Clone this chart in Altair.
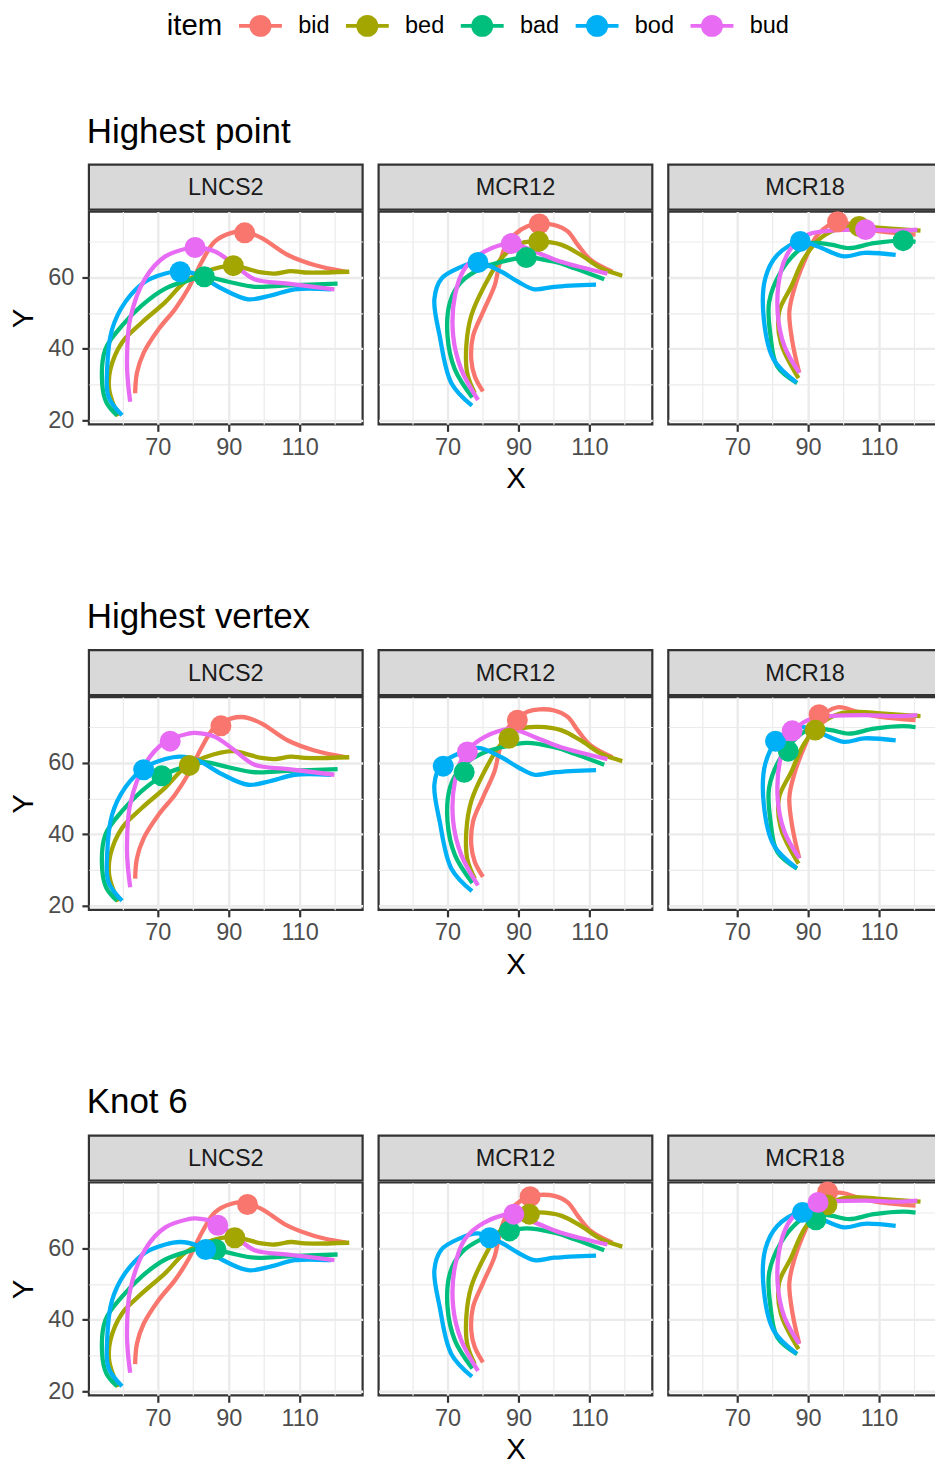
import altair as alt
import pandas as pd

FONT = "Liberation Sans"

ITEMS = ["bid", "bed", "bad", "bod", "bud"]
COLORS = ["#F8766D", "#A3A500", "#00BF7D", "#00B0F6", "#E76BF3"]
SPEAKERS = ["LNCS2", "MCR12", "MCR18"]
METHODS = ["Highest point", "Highest vertex", "Knot 6"]

X_TICKS = [60, 70, 80, 90, 100, 110, 120]
Y_TICKS = [20, 30, 40, 50, 60, 70]

# ---- trajectories (same in every row) ----
LNCS2_bid_x = [63.6, 64.1, 66.0, 70.2, 74.9, 78.6, 82.4, 86.1, 90.8, 94.5, 99.2, 106.7, 114.2, 123.1]
LNCS2_bid_y = [27.6, 33.3, 38.9, 45.5, 51.2, 56.9, 64.4, 70.1, 72.5, 72.8, 71.1, 66.3, 63.5, 61.6]
LNCS2_bed_x = [58.8, 56.3, 56.6, 59.9, 65.5, 72.1, 77.7, 83.3, 91.3, 94.6, 99.2, 103.0, 107.6, 111.4, 124.0]
LNCS2_bed_y = [21.2, 28.5, 34.2, 41.8, 47.4, 53.1, 58.8, 61.6, 63.3, 62.6, 61.4, 61.1, 61.8, 61.4, 61.6]
LNCS2_bad_x = [58.5, 55.5, 54.3, 55.2, 59.9, 65.5, 72.1, 78.6, 83.1, 89.9, 97.3, 106.7, 120.7]
LNCS2_bad_y = [21.4, 25.0, 30.4, 39.9, 46.5, 52.2, 56.9, 59.2, 60.2, 58.8, 57.4, 57.8, 58.3]
LNCS2_bod_x = [59.9, 56.1, 55.7, 57.1, 60.8, 66.4, 72.1, 76.3, 81.4, 88.0, 95.5, 102.0, 108.6, 118.9]
LNCS2_bod_y = [21.4, 26.6, 34.2, 45.5, 53.1, 58.8, 61.1, 61.8, 60.7, 56.9, 53.9, 55.0, 56.7, 56.7]
LNCS2_bud_x = [62.2, 61.6, 61.3, 62.2, 66.4, 72.1, 78.6, 80.5, 86.1, 91.7, 97.3, 106.7, 119.8]
LNCS2_bud_y = [25.2, 30.4, 36.1, 48.4, 59.7, 65.9, 68.2, 68.4, 67.3, 63.5, 59.5, 58.3, 56.7]

MCR12_bid_x = [80.0, 77.7, 76.7, 77.2, 80.0, 83.3, 84.4, 86.1, 88.9, 92.7, 95.9, 100.1, 103.9, 106.7, 110.4, 116.5]
MCR12_bid_y = [28.1, 32.3, 37.0, 43.6, 50.3, 57.8, 62.6, 68.2, 72.0, 74.4, 75.0, 74.7, 72.9, 69.2, 64.9, 61.6]
MCR12_bed_x = [77.7, 75.6, 75.3, 76.7, 80.5, 85.2, 90.8, 95.7, 102.0, 107.6, 113.3, 119.3]
MCR12_bed_y = [27.6, 33.0, 40.8, 49.3, 57.8, 65.4, 69.6, 70.1, 69.2, 66.3, 62.6, 60.5]
MCR12_bad_x = [77.0, 72.1, 70.0, 70.7, 73.9, 79.6, 85.2, 92.2, 100.1, 105.8, 114.2]
MCR12_bad_y = [26.4, 34.2, 43.6, 53.1, 58.8, 62.6, 64.4, 65.6, 64.4, 62.6, 59.5]
MCR12_bod_x = [76.9, 71.1, 67.8, 66.3, 68.3, 73.0, 78.6, 85.2, 89.9, 94.5, 100.1, 111.9]
MCR12_bod_y = [24.1, 30.4, 43.6, 54.0, 59.7, 62.6, 64.2, 61.6, 58.8, 56.7, 57.4, 58.0]
MCR12_bud_x = [78.6, 73.9, 71.6, 72.1, 74.9, 80.5, 88.0, 94.5, 102.0, 115.1]
MCR12_bud_y = [25.7, 34.2, 43.6, 55.0, 62.6, 67.3, 69.5, 67.3, 64.4, 61.1]

MCR18_bid_x = [87.5, 85.6, 84.7, 86.1, 88.9, 92.7, 98.3, 103.9, 110.4, 120.3]
MCR18_bid_y = [33.3, 41.8, 50.3, 56.9, 64.4, 72.0, 75.6, 74.3, 72.9, 72.0]
MCR18_bed_x = [87.3, 82.3, 81.8, 85.2, 88.9, 93.6, 99.2, 104.4, 110.4, 121.7]
MCR18_bed_y = [31.8, 41.8, 50.3, 57.4, 65.4, 71.1, 73.9, 74.3, 73.9, 73.1]
MCR18_bad_x = [86.9, 81.3, 79.4, 79.0, 82.3, 87.0, 90.8, 96.4, 101.5, 108.6, 116.8, 120.3]
MCR18_bad_y = [30.4, 35.1, 43.6, 53.1, 61.6, 67.3, 69.6, 69.2, 68.2, 69.6, 70.3, 70.0]
MCR18_bod_x = [86.7, 80.3, 77.5, 77.9, 81.3, 87.8, 92.7, 100.1, 105.8, 114.7]
MCR18_bod_y = [30.6, 37.0, 48.4, 59.7, 66.3, 70.1, 68.7, 65.9, 66.9, 66.3]
MCR18_bud_x = [87.5, 83.3, 81.4, 82.3, 85.2, 89.9, 96.4, 106.2, 115.1, 120.8]
MCR18_bud_y = [33.3, 40.8, 50.3, 61.6, 68.2, 72.0, 73.1, 73.4, 73.1, 73.4]

# ---- marked points (order: bid, bed, bad, bod, bud) ----
HP_LNCS2_x = [94.5, 91.3, 83.1, 76.3, 80.5]
HP_LNCS2_y = [72.5, 63.3, 60.2, 61.6, 68.4]
HP_MCR12_x = [95.9, 95.7, 92.2, 78.6, 88.0]
HP_MCR12_y = [75.0, 70.1, 65.6, 64.2, 69.5]
HP_MCR18_x = [98.3, 104.4, 116.8, 87.8, 106.2]
HP_MCR18_y = [75.6, 74.3, 70.3, 70.1, 73.4]

HV_LNCS2_x = [87.8, 78.9, 71.1, 66.0, 73.5]
HV_LNCS2_y = [70.4, 59.3, 56.4, 58.1, 66.1]
HV_MCR12_x = [89.7, 87.3, 74.7, 68.8, 75.6]
HV_MCR12_y = [72.0, 66.9, 57.4, 59.1, 63.1]
HV_MCR18_x = [93.1, 92.0, 84.4, 80.8, 85.5]
HV_MCR18_y = [73.5, 69.2, 63.3, 66.1, 69.0]

K6_LNCS2_x = [95.3, 91.7, 86.4, 83.5, 86.9]
K6_LNCS2_y = [72.3, 63.0, 59.7, 59.7, 66.5]
K6_MCR12_x = [93.3, 93.1, 87.5, 81.9, 88.7]
K6_MCR12_y = [74.5, 69.6, 64.9, 63.0, 69.6]
K6_MCR18_x = [95.5, 95.3, 92.2, 88.4, 92.8]
K6_MCR18_y = [75.8, 72.2, 68.0, 70.1, 72.9]

CURVES = {
    ("LNCS2", "bid"): (LNCS2_bid_x, LNCS2_bid_y),
    ("LNCS2", "bed"): (LNCS2_bed_x, LNCS2_bed_y),
    ("LNCS2", "bad"): (LNCS2_bad_x, LNCS2_bad_y),
    ("LNCS2", "bod"): (LNCS2_bod_x, LNCS2_bod_y),
    ("LNCS2", "bud"): (LNCS2_bud_x, LNCS2_bud_y),
    ("MCR12", "bid"): (MCR12_bid_x, MCR12_bid_y),
    ("MCR12", "bed"): (MCR12_bed_x, MCR12_bed_y),
    ("MCR12", "bad"): (MCR12_bad_x, MCR12_bad_y),
    ("MCR12", "bod"): (MCR12_bod_x, MCR12_bod_y),
    ("MCR12", "bud"): (MCR12_bud_x, MCR12_bud_y),
    ("MCR18", "bid"): (MCR18_bid_x, MCR18_bid_y),
    ("MCR18", "bed"): (MCR18_bed_x, MCR18_bed_y),
    ("MCR18", "bad"): (MCR18_bad_x, MCR18_bad_y),
    ("MCR18", "bod"): (MCR18_bod_x, MCR18_bod_y),
    ("MCR18", "bud"): (MCR18_bud_x, MCR18_bud_y),
}
MARKS = {
    ("Highest point", "LNCS2"): (HP_LNCS2_x, HP_LNCS2_y),
    ("Highest point", "MCR12"): (HP_MCR12_x, HP_MCR12_y),
    ("Highest point", "MCR18"): (HP_MCR18_x, HP_MCR18_y),
    ("Highest vertex", "LNCS2"): (HV_LNCS2_x, HV_LNCS2_y),
    ("Highest vertex", "MCR12"): (HV_MCR12_x, HV_MCR12_y),
    ("Highest vertex", "MCR18"): (HV_MCR18_x, HV_MCR18_y),
    ("Knot 6", "LNCS2"): (K6_LNCS2_x, K6_LNCS2_y),
    ("Knot 6", "MCR12"): (K6_MCR12_x, K6_MCR12_y),
    ("Knot 6", "MCR18"): (K6_MCR18_x, K6_MCR18_y),
}

curve_rows = []
for sp in SPEAKERS:
    for it in ITEMS:
        xs, ys = CURVES[(sp, it)]
        for i, (xv, yv) in enumerate(zip(xs, ys)):
            curve_rows.append({"speaker": sp, "item": it, "order": i, "x": xv, "y": yv})
curves_df = pd.DataFrame(curve_rows)

mark_rows = []
for (me, sp), (xs, ys) in MARKS.items():
    for it, xv, yv in zip(ITEMS, xs, ys):
        mark_rows.append({"method": me, "speaker": sp, "item": it, "x": xv, "y": yv})
marks_df = pd.DataFrame(mark_rows)

# ---- styling ----
W, H, STRIP_H = 274, 213, 45
BORDER = "#333333"
GRID = "#EBEBEB"
TXT = 23.5
TTL = 29.4

color_scale = alt.Scale(domain=ITEMS, range=COLORS)
x_scale = alt.Scale(domain=[50.56, 127.76], nice=False, zero=False)
y_scale = alt.Scale(domain=[18.88, 78.46], nice=False, zero=False)

X_MAJOR = "datum.value % 20 == 10"
Y_MAJOR = "datum.value % 20 == 0"

LEGEND_SYMBOL = ("M-1.95,-0.18L1.95,-0.18L1.95,0.18L-1.95,0.18Z "
                 "M1,0A1,1,0,1,1,-1,0A1,1,0,1,1,1,0Z")

LEGEND = alt.Legend(
    title="item", orient="none", direction="horizontal",
    legendX=78, legendY=-151,
    titleOrient="left", titleFontSize=TTL, titleFontWeight="normal",
    titleColor="black", titleFont=FONT, titlePadding=26,
    labelFontSize=TXT, labelColor="black", labelFont=FONT,
    symbolType=LEGEND_SYMBOL, symbolSize=484, symbolStrokeWidth=0,
    symbolOpacity=1, labelOffset=26, columnPadding=16,
)


def x_axis(show_title):
    kw = dict(
        values=X_TICKS,
        labelExpr=f"{X_MAJOR} ? datum.label : ''",
        grid=True, gridColor=GRID,
        gridWidth={"condition": {"test": X_MAJOR, "value": 2.4}, "value": 1.2},
        domain=False, ticks=True, tickColor=BORDER, tickWidth=2.2, tickSize=7,
        tickOpacity={"condition": {"test": X_MAJOR, "value": 1}, "value": 0},
        labelFontSize=TXT, labelColor="#4D4D4D", labelFont=FONT, labelPadding=4,
        titleFontSize=TTL, titleFontWeight="normal", titleColor="black",
        titleFont=FONT, titlePadding=6,
    )
    kw["title"] = "X" if show_title else None
    return alt.Axis(**kw)


def y_axis(show):
    kw = dict(
        values=Y_TICKS, grid=True, gridColor=GRID,
        gridWidth={"condition": {"test": Y_MAJOR, "value": 2.4}, "value": 1.2},
        domain=False,
    )
    if show:
        kw.update(
            labelExpr=f"{Y_MAJOR} ? datum.label : ''",
            ticks=True, tickColor=BORDER, tickWidth=2.2, tickSize=7,
            tickOpacity={"condition": {"test": Y_MAJOR, "value": 1}, "value": 0},
            labelFontSize=TXT, labelColor="#4D4D4D", labelFont=FONT, labelPadding=8,
            title="Y", titleFontSize=TTL, titleFontWeight="normal",
            titleColor="black", titleFont=FONT, titlePadding=9,
        )
    else:
        kw.update(labels=False, ticks=False, title=None)
    return alt.Axis(**kw)


def panel(method, speaker, col):
    strip = alt.Chart(pd.DataFrame({"label": [speaker]})).mark_text(
        font=FONT, fontSize=TXT, color="#1A1A1A", align="center", baseline="middle"
    ).encode(
        text="label:N", x=alt.value(W / 2), y=alt.value(STRIP_H / 2 + 1)
    ).properties(
        width=W, height=STRIP_H,
        view=alt.ViewBackground(fill="#D9D9D9", stroke=BORDER, strokeWidth=2.2),
    )
    cdf = curves_df[curves_df.speaker == speaker]
    mdf = marks_df[(marks_df.method == method) & (marks_df.speaker == speaker)]
    xe = alt.X("x:Q", scale=x_scale, axis=x_axis(col == 1))
    ye = alt.Y("y:Q", scale=y_scale, axis=y_axis(col == 0))
    lines = alt.Chart(cdf).mark_line(strokeWidth=4.3, interpolate="catmull-rom").encode(
        x=xe, y=ye,
        stroke=alt.Stroke("item:N", scale=color_scale, legend=LEGEND),
        order="order:Q",
    )
    pts = alt.Chart(mdf).mark_circle(size=440, opacity=1).encode(
        x=xe, y=ye,
        fill=alt.Fill("item:N", scale=color_scale, legend=LEGEND),
    )
    plot = alt.layer(lines, pts).properties(
        width=W, height=H,
        view=alt.ViewBackground(fill="white", stroke=BORDER, strokeWidth=2.2),
    )
    return alt.vconcat(strip, plot, spacing=-3)


rows = []
for me in METHODS:
    row = alt.hconcat(*[panel(me, sp, i) for i, sp in enumerate(SPEAKERS)], spacing=12).properties(
        title=alt.TitleParams(
            text=me, anchor="start", fontSize=35, fontWeight="normal",
            color="black", font=FONT, dx=79, offset=14,
        )
    )
    rows.append(row)

chart = alt.vconcat(*rows, spacing=105).resolve_scale(
    fill="shared", stroke="shared"
).properties(
    padding={"left": 7, "top": 13, "right": -9, "bottom": 0}
).configure(font=FONT)

chart.save("out.html", embed_options={"renderer": "svg", "actions": False})
